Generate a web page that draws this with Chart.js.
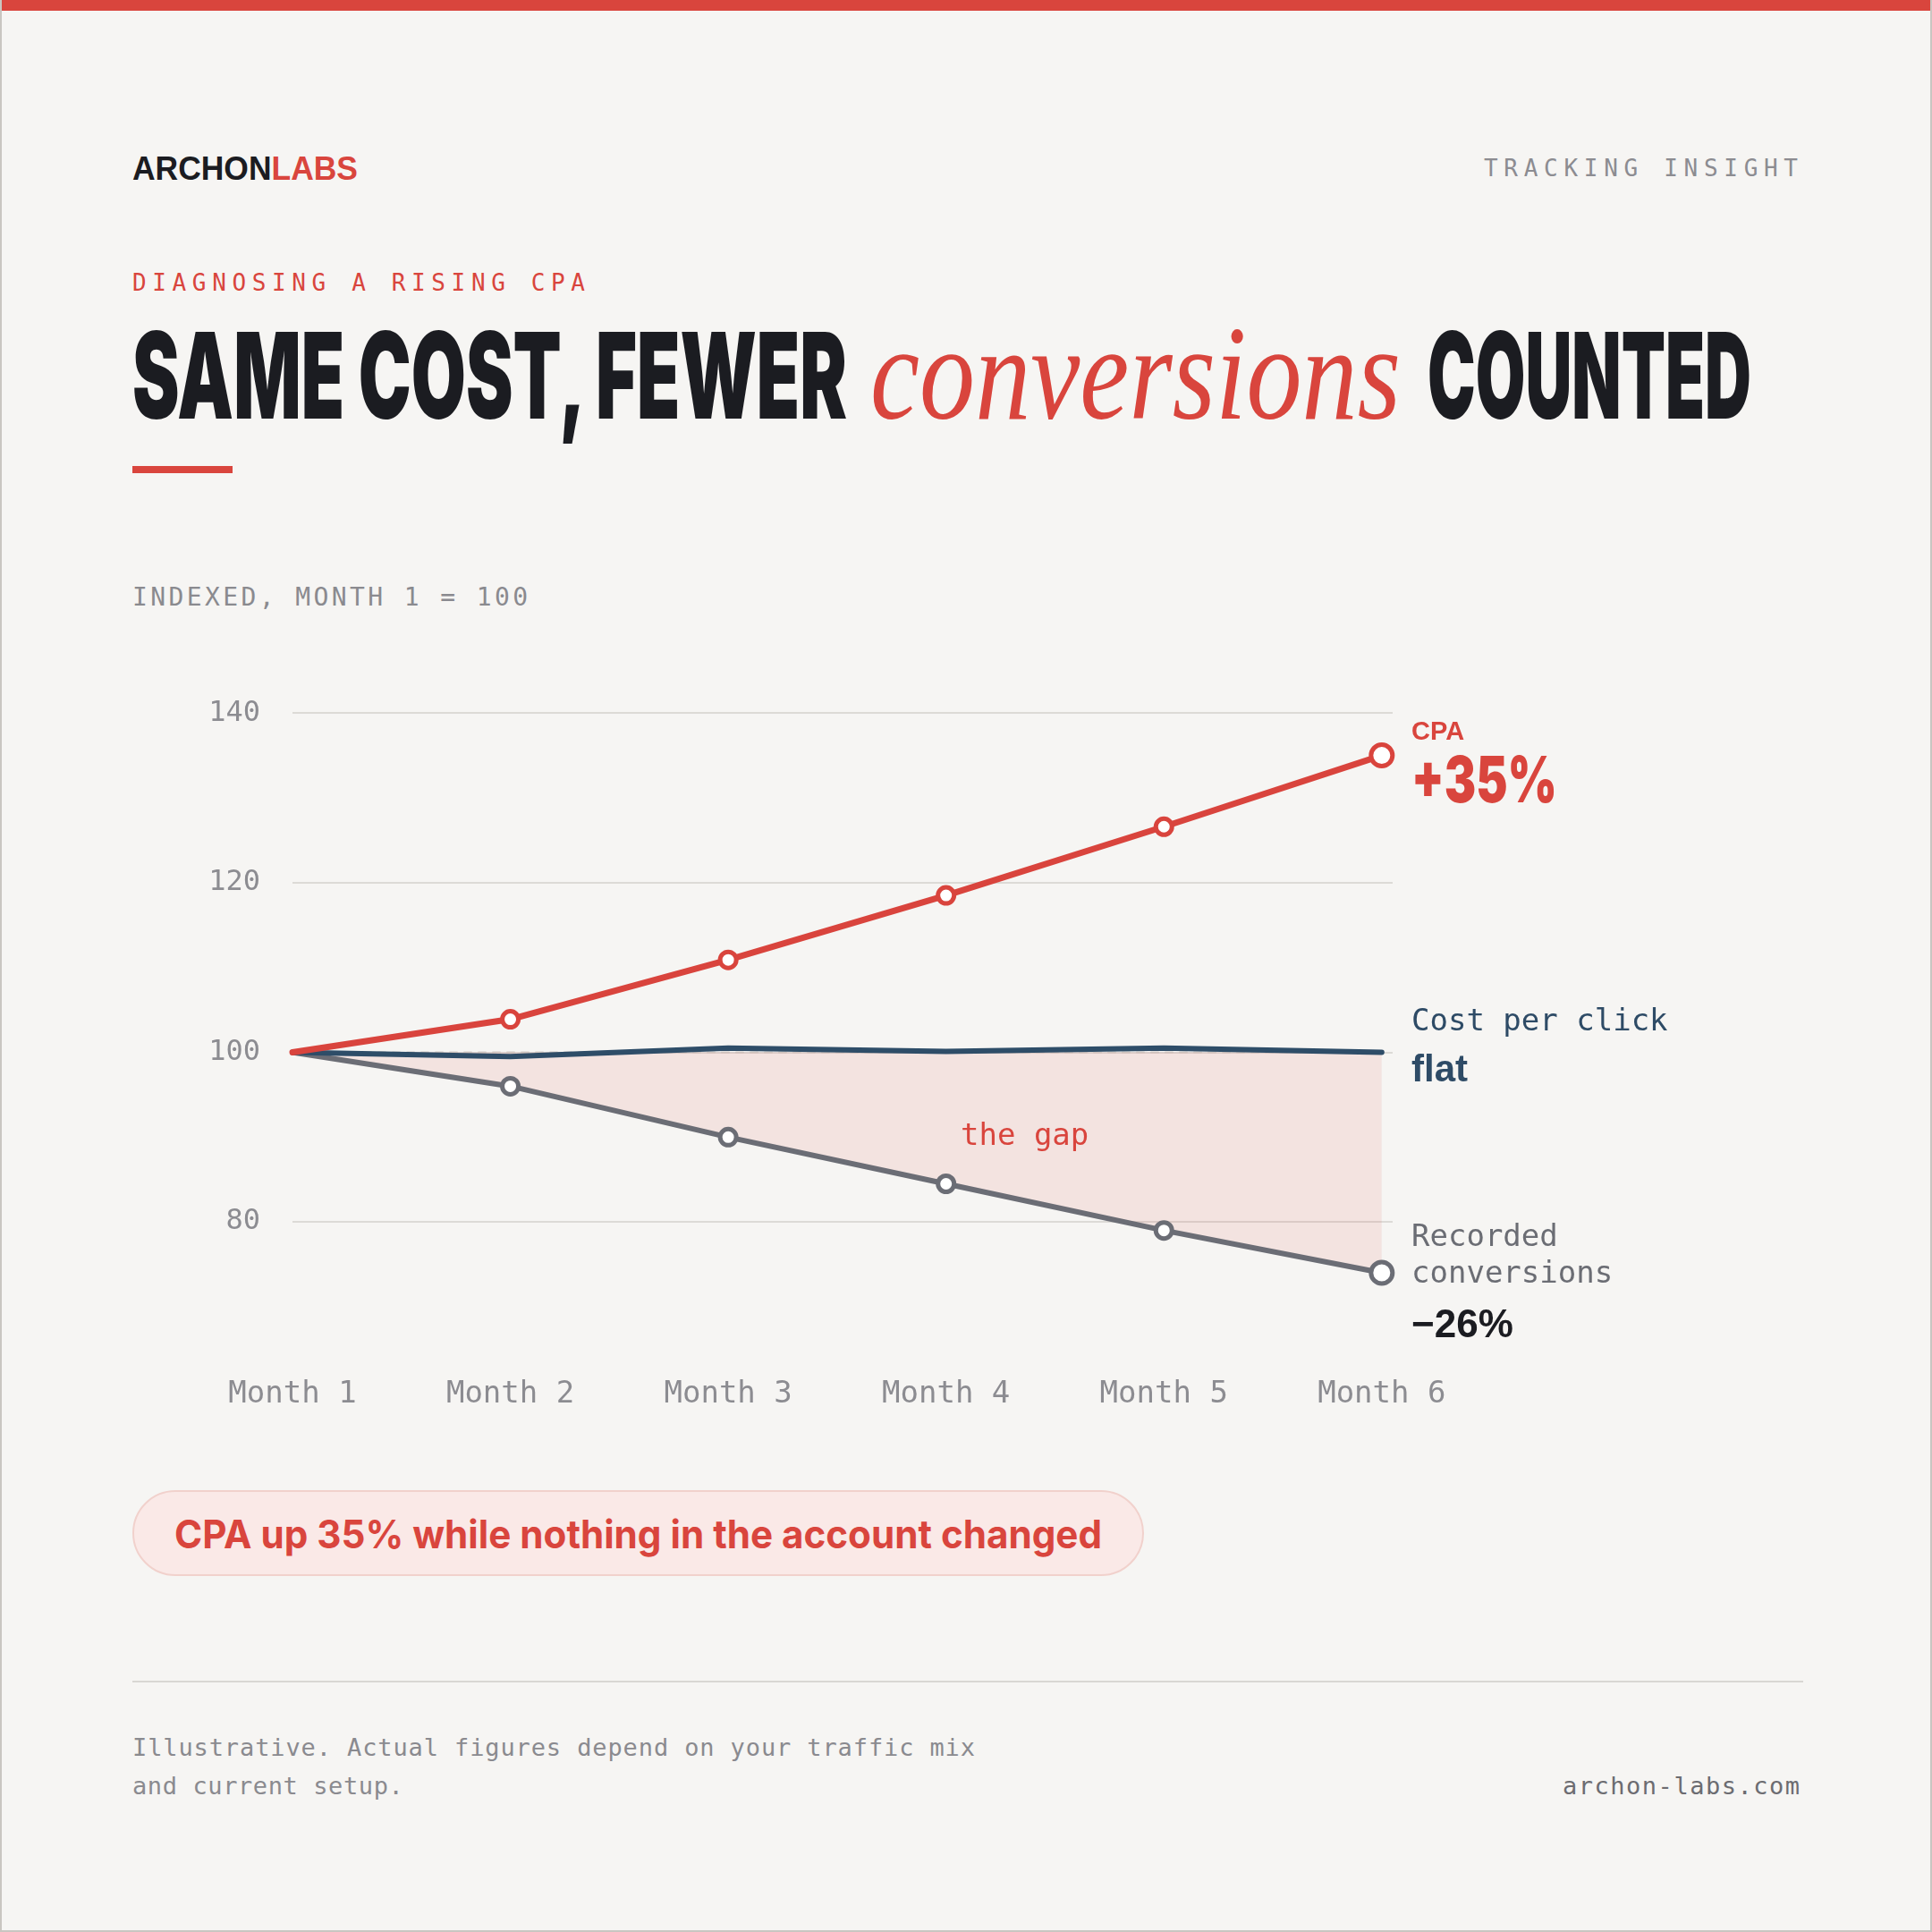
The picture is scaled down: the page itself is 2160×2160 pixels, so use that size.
<!DOCTYPE html>
<html>
<head>
<meta charset="utf-8">
<script src="https://cdn.jsdelivr.net/npm/chart.js@4.4.1/dist/chart.umd.min.js"></script>
<style>
  html, body { margin: 0; padding: 0; background: #f6f5f3; }
  #page { position: relative; width: 2160px; height: 2160px; background: #f6f5f3; box-sizing: border-box;
          border-left: 2px solid #c9c6c1; border-right: 2px solid #c9c6c1; border-bottom: 2px solid #c9c6c1; overflow: hidden; }
  #topbar { position: absolute; left: 0; top: 0; width: 2160px; height: 12px; background: #d9453d; }
  .t { position: absolute; white-space: nowrap; line-height: 1; }
  .mono { font-family: "DejaVu Sans Mono", "Liberation Mono", monospace; }
  .sans { font-family: "Liberation Sans", Arial, sans-serif; font-weight: 700; }
  .heavy { font-family: Inter, Roboto, "Liberation Sans", sans-serif; font-weight: 900; }
  #chartBox { position: absolute; left: 146px; top: 742px; width: 1700px; height: 858px; }
  #pill { position: absolute; left: 146px; top: 1666px; width: 1131px; height: 96px; box-sizing: border-box;
          border-radius: 48px; background: #fae9e7; border: 2px solid #f1d1cc; }
  #sep { position: absolute; left: 146px; top: 1879px; width: 1868px; height: 2px; background: #d9d7d3; }
  #rule { position: absolute; left: 146px; top: 521px; width: 112px; height: 8px; background: #d9453d; }
</style>
</head>
<body>
<div id="page">
  <div id="topbar"></div>

  <div class="t sans fit" data-w="252" data-mode="scale" style="left:146px; top:170px; font-size:37px; color:#1b1c21;">ARCHON<span style="color:#d9453d">LABS</span></div>
  <div class="t mono fit" data-w="351" data-mode="ls" data-align="r" style="right:148px; top:175px; font-size:26px; color:#8c8c91;">TRACKING INSIGHT</div>

  <div class="t mono fit" data-w="506" data-mode="ls" style="left:146px; top:303px; font-size:26px; color:#d9453d;">DIAGNOSING A RISING CPA</div>

  <div class="t heavy fit" data-w="799" data-mode="scale" style="left:146px; top:352px; font-size:134px; color:#1b1c21;">SAME COST, FEWER</div>
  <div class="t fit" data-w="593" data-mode="scale" style="left:971px; top:342px; font-size:150px; color:#d9453d; font-family:'Liberation Serif','DejaVu Serif',serif; font-style:italic;">conversions</div>
  <div class="t heavy fit" data-w="362" data-mode="scale" style="left:1594px; top:352px; font-size:134px; color:#1b1c21;">COUNTED</div>

  <div id="rule"></div>

  <div class="t mono fit" data-w="442" data-mode="ls" style="left:146px; top:654px; font-size:28px; color:#8a8a8f;">INDEXED, MONTH 1 = 100</div>

  <div id="chartBox"><canvas id="c"></canvas></div>

  <div class="t sans" style="left:1576px; top:803px; font-size:29px; color:#d9453d;">CPA</div>
  <div class="t heavy fit" data-w="163" data-mode="scale" style="left:1576px; top:836px; font-size:71px; color:#d9453d;">+35%</div>

  <div class="t mono" style="left:1576px; top:1123px; font-size:34px; color:#2e4b66;">Cost per click</div>
  <div class="t sans" style="left:1576px; top:1174px; font-size:42px; color:#2e4b66;">flat</div>

  <div class="t mono" style="left:1576px; top:1364px; font-size:34px; color:#6b6d74;">Recorded</div>
  <div class="t mono" style="left:1576px; top:1405px; font-size:34px; color:#6b6d74;">conversions</div>
  <div class="t sans" style="left:1576px; top:1458px; font-size:44px; color:#1b1c21;">&minus;26%</div>

  <div class="t mono" style="left:1072px; top:1251px; font-size:34px; color:#d9453d;">the gap</div>

  <div id="pill"></div>
  <div class="t fit" data-w="1037" data-mode="scale" style="left:193px; top:1693px; font-size:44px; color:#d9453d; font-family:Inter, 'Liberation Sans', sans-serif; font-weight:700;">CPA up 35% while nothing in the account changed</div>

  <div id="sep"></div>

  <div class="t mono fit" data-w="942" data-mode="ls" style="left:146px; top:1940px; font-size:27px; color:#8a8a8f;">Illustrative. Actual figures depend on your traffic mix</div>
  <div class="t mono" style="left:146px; top:1983px; font-size:27px; color:#8a8a8f; letter-spacing:0.6px;">and current setup.</div>
  <div class="t mono fit" data-w="265" data-mode="ls" data-align="r" style="right:146px; top:1983px; font-size:27px; color:#6c6c71;">archon-labs.com</div>
</div>

<script>
// ---- Data ----
const months = ['Month 1', 'Month 2', 'Month 3', 'Month 4', 'Month 5', 'Month 6'];
const cpa = [100, 103.9, 110.9, 118.5, 126.6, 135];
const costPerClick = [100, 99.5, 100.5, 100.1, 100.5, 100];
const recordedConversions = [100, 96, 90, 84.5, 79, 74];
const baseline = [100, 100, 100, 100, 100, 100];
const yTicks = [80, 100, 120, 140];

// ---- Text fitting ----
document.querySelectorAll('.fit').forEach(el => {
  const w = +el.dataset.w;
  const nat = el.getBoundingClientRect().width;
  if (el.dataset.mode === 'ls') {
    const n = el.textContent.length;
    const ls = (w - nat) / (n - 1);
    el.style.letterSpacing = ls + 'px';
    if (el.dataset.align === 'r') el.style.right = (parseFloat(el.style.right) - ls) + 'px';
  } else {
    el.style.transformOrigin = el.dataset.align === 'r' ? 'right center' : 'left center';
    el.style.transform = 'scaleX(' + (w / nat) + ')';
  }
});

// ---- Chart ----
const RED = '#d9443d', NAVY = '#2e4d68', GREY = '#6b6d75';
const xy = arr => arr.map((v, i) => ({ x: i, y: v }));
const last = months.length - 1;
const ptRadius = ctx => ctx.dataIndex === 0 ? 0 : (ctx.dataIndex === last ? 12 : 9);

new Chart(document.getElementById('c'), {
  type: 'line',
  data: {
    datasets: [
      { label: 'Baseline', data: xy(baseline), borderColor: '#cfccc7', borderWidth: 2, borderDash: [8, 8],
        pointRadius: 0, fill: false, order: 3 },
      { label: 'Cost per click', data: xy(costPerClick), borderColor: NAVY, borderWidth: 6,
        pointRadius: 0, fill: false, order: 1 },
      { label: 'Recorded conversions', data: xy(recordedConversions), borderColor: GREY, borderWidth: 6,
        pointRadius: ptRadius, pointBorderWidth: 5, pointBackgroundColor: '#ffffff', pointBorderColor: GREY,
        fill: { target: 0 }, backgroundColor: 'rgba(217,68,61,0.10)', order: 2 },
      { label: 'CPA', data: xy(cpa), borderColor: RED, borderWidth: 7,
        pointRadius: ptRadius, pointBorderWidth: 5, pointBackgroundColor: '#ffffff', pointBorderColor: RED,
        fill: false, order: 0 }
    ]
  },
  options: {
    responsive: true,
    maintainAspectRatio: false,
    animation: false,
    clip: false,
    layout: { padding: { top: 17, right: 291, bottom: 0, left: 0 } },
    elements: { line: { tension: 0, borderCapStyle: 'round', borderJoinStyle: 'round' } },
    plugins: { legend: { display: false }, tooltip: { enabled: false } },
    scales: {
      x: {
        type: 'linear', min: 0, max: last + 0.05,
        grid: { display: false }, border: { display: false },
        afterBuildTicks: s => { s.ticks = months.map((_, i) => ({ value: i })); },
        afterFit: s => { s.height = 139; },
        ticks: { padding: 70, color: '#8c8c91', font: { family: 'DejaVu Sans Mono', size: 34 },
                 callback: v => months[v] , maxRotation: 0, autoSkip: false }
      },
      y: {
        min: 70, max: 140,
        grid: { color: '#dcdad6', lineWidth: 2, drawTicks: false }, border: { display: false },
        afterBuildTicks: s => { s.ticks = yTicks.map(v => ({ value: v })); },
        afterFit: s => { s.width = 179; },
        ticks: { padding: 36, color: '#8c8c91', font: { family: 'DejaVu Sans Mono', size: 32 } }
      }
    }
  }
});
</script>
</body>
</html>
